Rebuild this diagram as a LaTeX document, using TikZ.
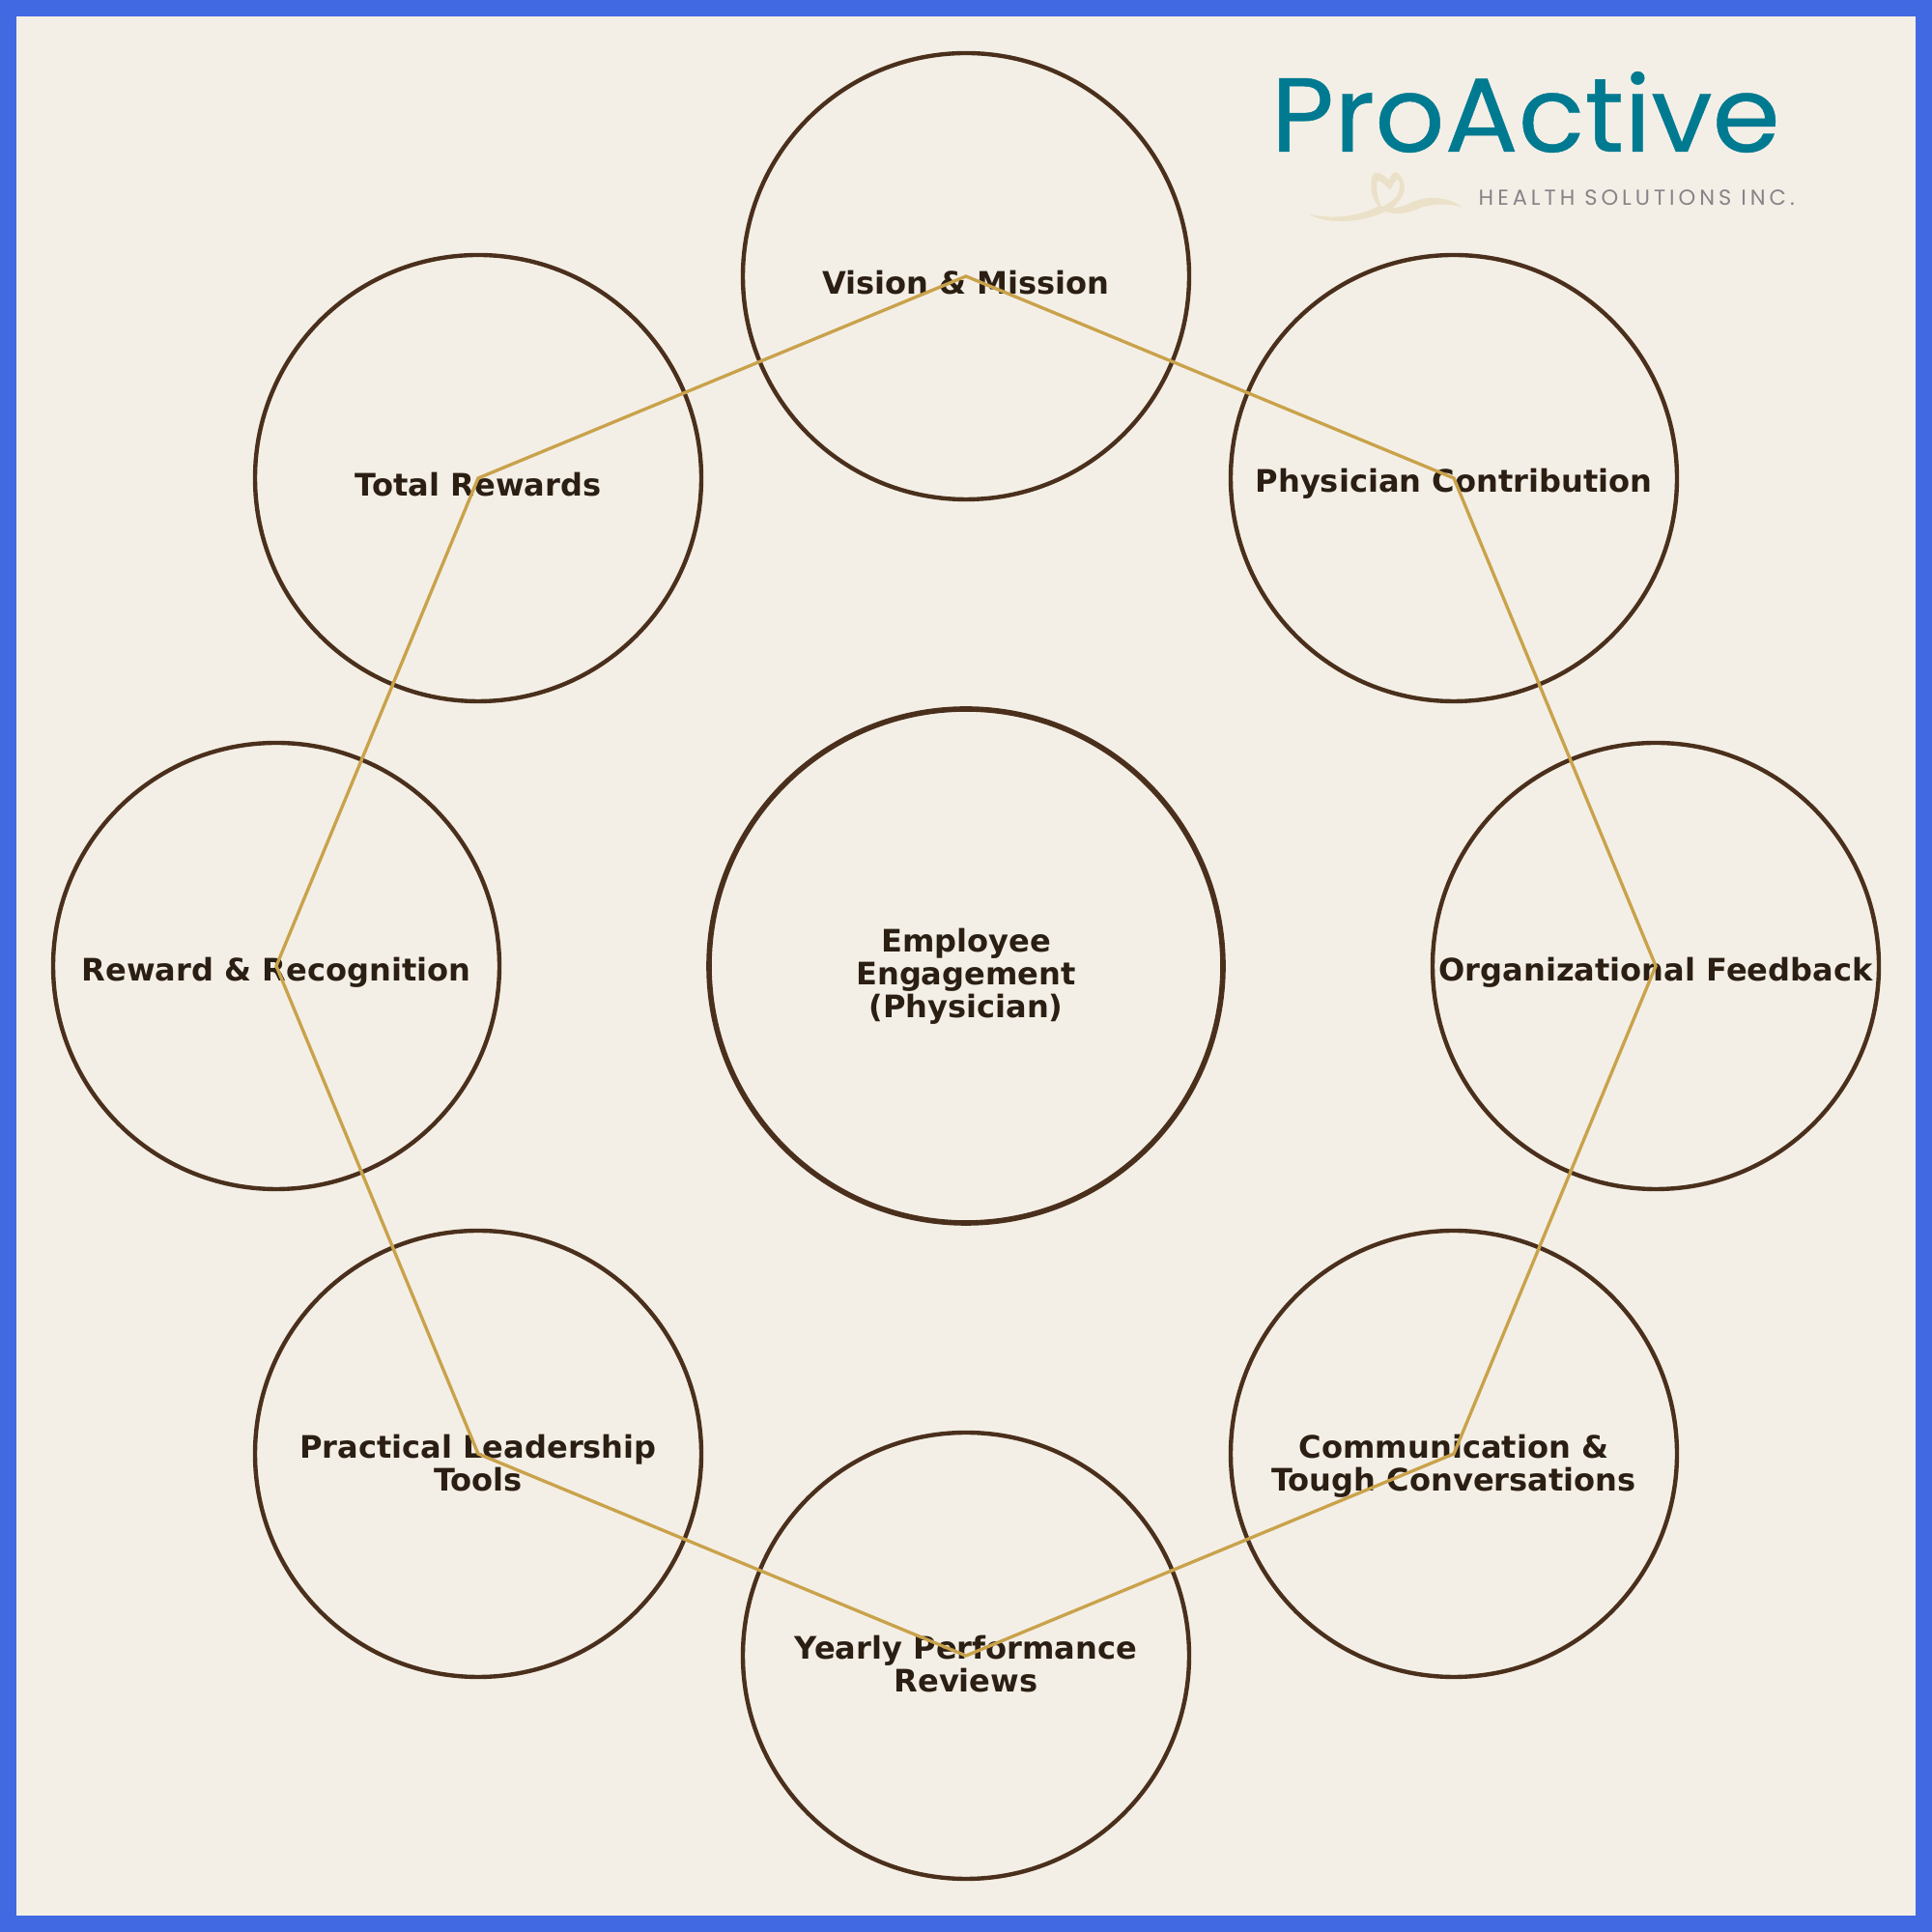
\documentclass[tikz,border=0pt]{standalone}
\usepackage{fontspec}
\setmainfont{DejaVu Sans}
\newfontfamily\logofont[FakeBold=0.4]{Poppins}
\newfontfamily\logosmall[LetterSpace=17.7]{Poppins}
\definecolor{frameblue}{HTML}{4169E1}
\definecolor{paper}{HTML}{F4EFE6}
\definecolor{ringbrown}{HTML}{4A301C}
\definecolor{linkgold}{HTML}{C9A24B}
\definecolor{inkdark}{HTML}{2B1F14}
\definecolor{logoteal}{HTML}{007A91}
\definecolor{logogrey}{HTML}{8A8288}
\definecolor{ribbon}{HTML}{EBE1C8}
\begin{document}
\begin{tikzpicture}[ring/.style = {draw=ringbrown, circle, inner sep=0pt, line width=1.25pt, minimum size=4.62cm},
		hub/.style = {draw=ringbrown, circle, inner sep=0pt, line width=1.6pt, minimum size=5.32cm},
		letter/.style = {text=inkdark, align=center, inner sep=0pt, font=\fontsize{9.13}{9.6}\selectfont\bfseries},
		link/.style = {draw=linkgold, line width=0.95pt}]
	
	\useasboundingbox (0,0) rectangle (20,20);
	\fill[frameblue] (0,0) rectangle (20,20);
	\fill[paper] (0.17,0.17) rectangle (19.83,19.83);
	
	\node[hub] (hub) at (10,10) {};
	\node[ring] (vision) at (10,17.14) {};
	\node[ring] (physician) at (15.05,15.05) {};
	\node[ring] (feedback) at (17.14,10) {};
	\node[ring] (tough) at (15.05,4.95) {};
	\node[ring] (yearly) at (10,2.86) {};
	\node[ring] (practical) at (4.95,4.95) {};
	\node[ring] (reward) at (2.86,10) {};
	\node[ring] (total) at (4.95,15.05) {};
	
	\node[letter] (hublabel) at ([yshift=-0.11cm]hub.center) {Employee\\Engagement\\(Physician)};
	\node[letter] (visionlabel) at ([yshift=-0.065cm]vision.center) {Vision \& Mission};
	\node[letter] (physicianlabel) at ([yshift=-0.06cm]physician.center) {Physician Contribution};
	\node[letter] (feedbacklabel) at ([yshift=-0.065cm]feedback.center) {Organizational Feedback};
	\node[letter] (toughlabel) at ([yshift=-0.125cm]tough.center) {Communication \&\\Tough Conversations};
	\node[letter] (yearlylabel) at ([yshift=-0.085cm]yearly.center) {Yearly Performance\\Reviews};
	\node[letter] (practicallabel) at ([yshift=-0.095cm]practical.center) {Practical Leadership\\Tools};
	\node[letter] (rewardlabel) at ([yshift=-0.065cm]reward.center) {Reward \& Recognition};
	\node[letter] (totallabel) at ([yshift=-0.07cm]total.center) {Total Rewards};
	
	\draw[link] (vision.center) -- (physician.center) -- (feedback.center) -- (tough.center) -- (yearly.center) -- (practical.center) -- (reward.center) -- (total.center) -- cycle;
	
	\node[text=logoteal, inner sep=0pt, anchor=base west, xscale=1.037, transform shape] (logo) at (13.15,18.43) {\logofont\fontsize{31}{31}\selectfont ProActive};
	\node[text=logogrey, inner sep=0pt, anchor=base west] (logotag) at (15.3,17.87) {\logosmall\fontsize{6.4}{7}\selectfont HEALTH SOLUTIONS INC.};
	
	\begin{scope}[shift={(13.4,18.35)}, x=0.003333cm, y=-0.003333cm]
		\fill[ribbon, even odd rule] (45,170) .. controls (90,198) and (190,205) .. (285,162)
			.. controls (320,178) and (360,165) .. (400,148)
			.. controls (450,135) and (500,140) .. (520,150)
			.. controls (500,125) and (430,110) .. (380,128)
			.. controls (350,140) and (330,150) .. (305,152)
			.. controls (335,125) and (345,100) .. (342,80)
			.. controls (338,55) and (322,38) .. (312,40)
			.. controls (300,45) and (297,60) .. (295,65)
			.. controls (285,55) and (265,38) .. (250,42)
			.. controls (235,50) and (238,80) .. (240,100)
			.. controls (245,125) and (255,140) .. (262,145)
			.. controls (210,175) and (120,190) .. (45,170) -- cycle
			(258,68) .. controls (265,60) and (280,80) .. (298,95)
			.. controls (305,85) and (312,65) .. (322,62)
			.. controls (332,70) and (328,100) .. (318,115)
			.. controls (305,130) and (285,142) .. (272,148)
			.. controls (260,130) and (252,90) .. (258,68) -- cycle;
	\end{scope}
\end{tikzpicture}
\end{document}
